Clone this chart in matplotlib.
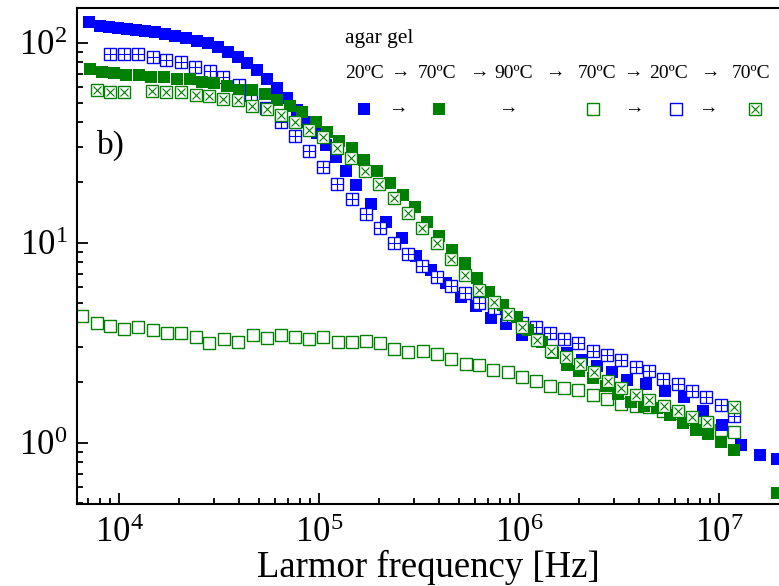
import numpy as np
import matplotlib
matplotlib.use('Agg')
import matplotlib.pyplot as plt

plt.rcParams['font.family'] = ['Liberation Serif', 'DejaVu Serif']
plt.rcParams['mathtext.fontset'] = 'stix'

# 20 C, first run (blue filled)
f_20a = [7057, 8008, 8882, 9851, 10965, 12162, 13539, 15190, 17044, 19124,
         21627, 24547, 27768, 31155, 34955, 39220, 43652, 48809, 55142, 61871,
         68945, 77357, 86796, 97388, 108393, 121619, 136458, 153109, 181970, 216272,
         260016, 305492, 363078, 431519, 512861, 609537, 722100, 860994, 1.0316e6, 1.2261e6,
         1.454e6, 1.7319e6, 2.0583e6, 2.463e6, 2.928e6, 3.479e6, 4.315e6, 5.370e6, 6.683e6, 8.349e6,
         1.0387e7, 1.2882e7, 1.6032e7, 1.9566e7]
v_20a = [127.4, 121.6, 119.4, 118.0, 117.1, 115.8, 114.8, 112.7, 110.5, 108.0,
         105.2, 102.3, 99.3, 94.8, 90.2, 85.1, 79.2, 73.0, 65.6, 59.2,
         53.1, 46.1, 40.3, 35.5, 30.8, 26.7, 22.9, 19.4, 15.7, 12.7,
         10.5, 8.58, 7.30, 6.27, 5.33, 4.83, 4.19, 3.91, 3.46, 3.26,
         2.89, 2.82, 2.59, 2.42, 2.26, 2.06, 1.97, 1.82, 1.70, 1.44,
         1.23, 0.974, 0.868, 0.826]

# 70 C, first run (green filled)
f_70a = [7138, 8253, 9474, 10901, 12635, 14454, 16788, 19387, 22520, 25942,
         29854, 34594, 39811, 46081, 53703, 61442, 71860, 82527, 96274, 109260,
         126330, 146690, 168460, 194340, 226460, 261560, 301995, 347940, 399500, 460800,
         537000, 618800, 710500, 834600, 974000, 1.113e6, 1.299e6, 1.484e6, 1.732e6, 2.002e6,
         2.336e6, 2.714e6, 3.137e6, 3.619e6, 4.217e6, 4.881e6, 5.689e6, 6.584e6, 7.674e6, 8.841e6,
         1.0233e7, 1.1885e7, 1.943e7]
v_70a = [74.1, 71.6, 70.3, 68.7, 68.9, 67.6, 67.0, 66.0, 65.8, 63.8,
         63.2, 60.7, 58.2, 57.7, 55.2, 51.7, 48.3, 44.9, 40.3, 35.9,
         32.3, 29.6, 25.9, 22.9, 19.8, 17.3, 15.0, 12.7, 10.8, 9.19,
         7.89, 6.68, 5.69, 4.88, 4.27, 3.66, 3.20, 2.80, 2.45, 2.29,
         2.10, 1.92, 1.75, 1.60, 1.53, 1.49, 1.38, 1.26, 1.16, 1.11,
         1.01, 0.92, 0.56]

# 90 C -> 70 C (green open)
f_70b = [6510, 7738, 9016, 10593, 12488, 14740, 17318, 20417, 24266, 28282,
         33497, 39494, 46508, 54764, 64420, 75858, 89330, 105080, 123740, 145690,
         171790, 201840, 237960, 279570, 329230, 387740, 454510, 541400, 633200, 743900,
         878000, 1.0316e6, 1.2162e6, 1.4289e6, 1.6846e6, 1.979e6, 2.336e6, 2.745e6, 3.236e6, 3.833e6,
         4.483e6, 5.267e6, 6.217e6, 7.328e6, 8.680e6, 1.0233e7, 1.1927e7]
v_70b = [4.30, 3.95, 3.83, 3.69, 3.80, 3.66, 3.55, 3.55, 3.37, 3.14,
         3.29, 3.20, 3.44, 3.34, 3.45, 3.37, 3.29, 3.37, 3.18, 3.20,
         3.21, 3.16, 2.93, 2.85, 2.86, 2.77, 2.61, 2.48, 2.45, 2.31,
         2.25, 2.12, 2.03, 1.93, 1.88, 1.83, 1.73, 1.65, 1.57, 1.53,
         1.51, 1.44, 1.40, 1.31, 1.26, 1.16, 1.13]

# 20 C, second run (blue open)
f_20b = [8984, 10556, 12445, 14791, 17239, 20417, 24072, 28416, 33113, 39674,
         45870, 54325, 64346, 75858, 89125, 105075, 123454, 145690, 171200, 201840,
         237140, 277970, 328470, 387740, 455560, 537030, 633200, 749900, 874000, 1.0316e6,
         1.2162e6, 1.4289e6, 1.6846e6, 1.979e6, 2.336e6, 2.745e6, 3.236e6, 3.833e6, 4.483e6, 5.267e6,
         6.217e6, 7.328e6, 8.610e6, 1.0198e7, 1.1927e7]
v_20b = [87.5, 87.5, 87.5, 84.5, 81.9, 79.8, 75.9, 72.2, 67.6, 61.4,
         54.8, 47.0, 40.3, 34.2, 28.8, 23.8, 19.7, 16.5, 13.9, 11.8,
         10.0, 8.73, 7.65, 6.76, 6.07, 5.58, 5.01, 4.70, 4.30, 3.98,
         3.80, 3.54, 3.29, 3.14, 2.88, 2.74, 2.59, 2.40, 2.29, 2.07,
         1.97, 1.81, 1.70, 1.54, 1.36]

# 70 C, second run (green crossed)
f_70c = [7720, 9036, 10532, 14655, 17278, 20300, 24180, 28184, 33189, 39355,
         46401, 54764, 64346, 75858, 88920, 104350, 122600, 144540, 169820, 200190,
         237140, 277970, 328470, 387740, 455560, 537030, 633200, 746400, 881000, 1.0375e6,
         1.2246e6, 1.4454e6, 1.7179e6, 2.0066e6, 2.358e6, 2.7861e6, 3.2359e6, 3.8238e6, 4.4823e6, 5.3088e6,
         6.2373e6, 7.3282e6, 8.6596e6, 1.1927e7]
v_70c = [57.8, 56.9, 56.9, 57.5, 56.9, 56.9, 54.8, 54.1, 52.3, 51.5,
         48.3, 46.5, 43.3, 40.1, 36.6, 33.7, 29.6, 26.4, 22.8, 19.7,
         16.7, 14.1, 11.8, 9.93, 8.26, 6.90, 5.82, 5.05, 4.40, 3.79,
         3.26, 2.87, 2.69, 2.48, 2.26, 2.03, 1.87, 1.73, 1.64, 1.53,
         1.44, 1.34, 1.27, 1.51]

legend_temps = ['20ºC', '70ºC', '90ºC', '70ºC', '20ºC', '70ºC']

blue = '#0000ff'
green = '#008000'

fig = plt.figure(figsize=(7.79, 5.86), dpi=100)
W, H = 779.0, 586.0
ax = fig.add_axes([77 / W, 1 - 504 / H, 1 - 77 / W, (504 - 8) / H])

ms = 8
ax.plot(f_70b, v_70b, 's', mfc='white', mec=green, ms=ms, mew=1.0, ls='none')
ax.plot(f_20a, v_20a, 's', color=blue, ms=ms, mew=0, ls='none')
ax.plot(f_20b, v_20b, 's', mfc='white', mec=blue, ms=ms, mew=1.0, ls='none')
ax.plot(f_20b, v_20b, '+', color=blue, ms=ms, mew=0.8, ls='none')
ax.plot(f_70a, v_70a, 's', color=green, ms=ms, mew=0, ls='none')
ax.plot(f_70c, v_70c, 's', mfc='white', mec=green, ms=ms, mew=1.0, ls='none')
ax.plot(f_70c, v_70c, 'x', color=green, ms=ms * 0.7, mew=0.8, ls='none')

ax.set_xscale('log')
ax.set_yscale('log')
ax.set_xlim(6166, 1.995e7)
ax.set_ylim(0.4937, 149.1)

ax.spines['right'].set_visible(False)
for s in ['left', 'bottom', 'top']:
    ax.spines[s].set_linewidth(1.5)
ax.tick_params(which='both', direction='in', top=False, right=False,
               labelsize=25, width=1.3)
ax.tick_params(which='major', length=8)
ax.tick_params(which='minor', length=4.5)
ax.tick_params(axis='x', pad=9)
ax.tick_params(axis='y', pad=7)
ax.set_xlabel('Larmor frequency [Hz]', fontsize=26.5, labelpad=0)

ax.text((97 - 77) / 702, (504 - 145) / 496, 'b)', transform=ax.transAxes,
        fontsize=24, va='center', ha='left')

# legend block
fig.text(345 / W, 1 - 38 / H, 'agar gel', fontsize=15.5, va='center', ha='left')
temp_x = [364, 437, 514, 597, 669, 751]
arrow_x = [400, 479, 555, 633, 710]
for x, t in zip(temp_x, legend_temps):
    fig.text(x / W, 1 - 73 / H, t, fontsize=14, va='center', ha='center')
for x in arrow_x:
    fig.text(x / W, 1 - 73 / H, '→', fontsize=14, va='center', ha='center')

key_y = 1 - 109 / H
fig.lines.append(plt.Line2D([364 / W], [key_y], marker='s', color=blue, ms=ms, mew=0,
                            transform=fig.transFigure))
fig.lines.append(plt.Line2D([439 / W], [key_y], marker='s', color=green, ms=ms, mew=0,
                            transform=fig.transFigure))
fig.lines.append(plt.Line2D([593 / W], [key_y], marker='s', mfc='white', mec=green, ms=ms,
                            mew=1.0, transform=fig.transFigure))
fig.lines.append(plt.Line2D([676 / W], [key_y], marker='s', mfc='white', mec=blue, ms=ms,
                            mew=1.0, transform=fig.transFigure))
fig.lines.append(plt.Line2D([755 / W], [key_y], marker='s', mfc='white', mec=green, ms=ms,
                            mew=1.0, transform=fig.transFigure))
fig.lines.append(plt.Line2D([755 / W], [key_y], marker='x', color=green, ms=ms * 0.7,
                            mew=0.8, transform=fig.transFigure))
for x in [398, 508, 634, 708]:
    fig.text(x / W, key_y, '→', fontsize=14, va='center', ha='center')

fig.savefig('out.png', dpi=100)
